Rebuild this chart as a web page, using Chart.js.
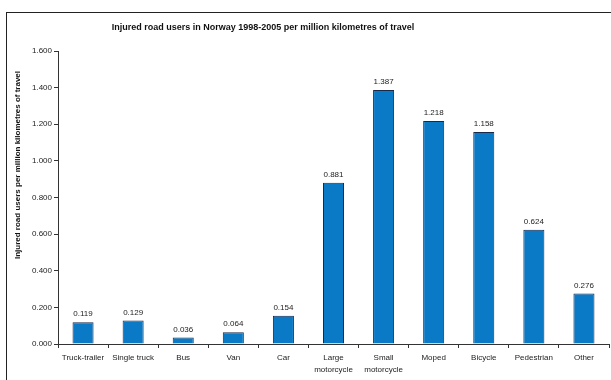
<!DOCTYPE html>
<html>
<head>
<meta charset="utf-8">
<script src="https://cdn.jsdelivr.net/npm/chart.js@4"></script>
<style>
  html, body { margin: 0; padding: 0; background: #fff; }
  #wrap { position: relative; width: 611px; height: 380px; }
  #frame { position: absolute; left: 6px; top: 12px; right: 0; bottom: 0;
           border-left: 1px solid #222; border-top: 1px solid #222; }
  canvas { position: absolute; left: 0; top: 0; }
</style>
</head>
<body>
<div id="wrap">
  <div id="frame"></div>
  <canvas id="chart" width="611" height="380"></canvas>
</div>
<script>
// ------------ DATA ------------
const categories = [
    'Truck-trailer', 'Single truck', 'Bus', 'Van', 'Car',
    ['Large', 'motorcycle'], ['Small', 'motorcycle'],
    'Moped', 'Bicycle', 'Pedestrian', 'Other'
];
const injured = [0.119, 0.129, 0.036, 0.064, 0.154, 0.881, 1.387, 1.218, 1.158, 0.624, 0.276];
const yTicks = [0, 0.2, 0.4, 0.6, 0.8, 1.0, 1.2, 1.4, 1.6];

const chartTitle = 'Injured road users in Norway 1998-2005 per million kilometres of travel';
const yTitle = 'Injured road users per million kilometres of travel';

const FONT = '"Liberation Sans", Arial, sans-serif';

// ------------ PLUGINS ------------
const labelsPlugin = {
    id: 'labels',
    afterDatasetsDraw(chart) {
        const ctx = chart.ctx;
        const meta = chart.getDatasetMeta(0);
        ctx.save();
        ctx.font = '8px ' + FONT;
        ctx.fillStyle = '#222';
        ctx.textAlign = 'center';
        ctx.textBaseline = 'bottom';
        meta.data.forEach(function(bar, i) {
            ctx.fillText(injured[i].toFixed(3), bar.x, bar.y - 4);
        });
        ctx.restore();
    },
    afterDraw(chart) {
        const ctx = chart.ctx;
        ctx.save();
        ctx.fillStyle = '#111';
        ctx.textAlign = 'center';
        ctx.textBaseline = 'middle';
        ctx.font = 'bold 9px ' + FONT;
        ctx.fillText(chartTitle, 263, 28);
        ctx.translate(18, 165);
        ctx.rotate(-Math.PI / 2);
        ctx.font = 'bold 8px ' + FONT;
        ctx.fillText(yTitle, 0, 0);
        ctx.restore();
    }
};

// ------------ CHART ------------
const config = {
    type: 'bar',
    data: {
        labels: categories,
        datasets: [{
            data: injured,
            backgroundColor: '#0a7ac6',
            borderColor: '#18294a',
            borderWidth: 1,
            barPercentage: 0.42,
            categoryPercentage: 1
        }]
    },
    options: {
        responsive: false,
        animation: false,
        layout: { padding: { left: 0, top: 51, right: 2, bottom: 0 } },
        plugins: {
            legend: { display: false },
            tooltip: { enabled: false }
        },
        scales: {
            x: {
                offset: true,
                grid: {
                    offset: true,
                    drawOnChartArea: false,
                    tickLength: 4,
                    color: '#333'
                },
                border: { color: '#333' },
                ticks: {
                    color: '#222',
                    font: { family: FONT, size: 8, lineHeight: 1.5 },
                    maxRotation: 0,
                    autoSkip: false,
                    padding: 4
                },
                afterFit(scale) { scale.height = 36; }
            },
            y: {
                min: 0,
                max: 1.6,
                afterBuildTicks(scale) {
                    scale.ticks = yTicks.map(function(v) { return { value: v }; });
                },
                grid: {
                    drawOnChartArea: false,
                    tickLength: 4,
                    color: '#333'
                },
                border: { color: '#333' },
                ticks: {
                    color: '#222',
                    font: { family: FONT, size: 8 },
                    padding: 2,
                    callback: function(v) { return v.toFixed(3); }
                },
                afterFit(scale) { scale.width = 58; }
            }
        }
    },
    plugins: [labelsPlugin]
};

new Chart(document.getElementById('chart').getContext('2d'), config);
</script>
</body>
</html>
